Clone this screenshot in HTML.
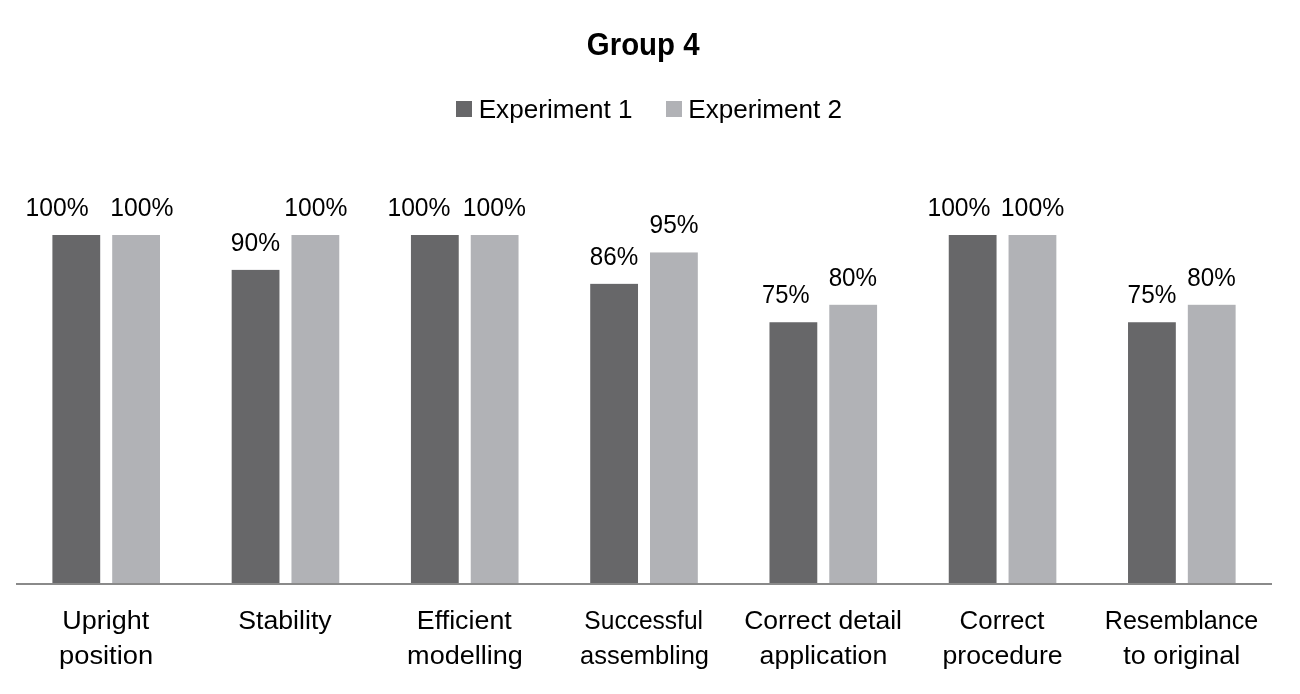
<!DOCTYPE html>
<html><head><meta charset="utf-8"><style>
html,body{margin:0;padding:0;background:#fff;width:1300px;height:694px;overflow:hidden}
svg{display:block;will-change:transform}
text{font-family:"Liberation Sans",sans-serif;fill:#000}
</style></head><body>
<svg width="1300" height="694" viewBox="0 0 1300 694">
<rect width="1300" height="694" fill="#fff"/>
<rect x="52.40" y="235.00" width="47.8" height="349.00" fill="#676769"/>
<rect x="112.20" y="235.00" width="47.8" height="349.00" fill="#b1b2b6"/>
<rect x="231.67" y="269.90" width="47.8" height="314.10" fill="#676769"/>
<rect x="291.47" y="235.00" width="47.8" height="349.00" fill="#b1b2b6"/>
<rect x="410.94" y="235.00" width="47.8" height="349.00" fill="#676769"/>
<rect x="470.74" y="235.00" width="47.8" height="349.00" fill="#b1b2b6"/>
<rect x="590.21" y="283.86" width="47.8" height="300.14" fill="#676769"/>
<rect x="650.01" y="252.45" width="47.8" height="331.55" fill="#b1b2b6"/>
<rect x="769.48" y="322.25" width="47.8" height="261.75" fill="#676769"/>
<rect x="829.28" y="304.80" width="47.8" height="279.20" fill="#b1b2b6"/>
<rect x="948.75" y="235.00" width="47.8" height="349.00" fill="#676769"/>
<rect x="1008.55" y="235.00" width="47.8" height="349.00" fill="#b1b2b6"/>
<rect x="1128.02" y="322.25" width="47.8" height="261.75" fill="#676769"/>
<rect x="1187.82" y="304.80" width="47.8" height="279.20" fill="#b1b2b6"/>
<rect x="16" y="583" width="1256" height="2" fill="#8a8a8a"/>
<rect x="456" y="101" width="16" height="16" fill="#676769"/>
<rect x="666" y="101" width="16" height="16" fill="#b1b2b6"/>
<text transform="translate(586.82,55.20) scale(0.9646,1)" font-size="30.5" font-weight="700">Group 4</text>
<text transform="translate(478.71,117.50) scale(1.0043,1)" font-size="26" font-weight="400">Experiment 1</text>
<text transform="translate(688.21,117.50) scale(1.0049,1)" font-size="26" font-weight="400">Experiment 2</text>
<text transform="translate(25.52,215.80) scale(0.9497,1)" font-size="26" font-weight="400">100%</text>
<text transform="translate(110.32,215.80) scale(0.9505,1)" font-size="26" font-weight="400">100%</text>
<text transform="translate(230.87,250.70) scale(0.9455,1)" font-size="26" font-weight="400">90%</text>
<text transform="translate(284.33,215.80) scale(0.9489,1)" font-size="26" font-weight="400">100%</text>
<text transform="translate(387.43,215.80) scale(0.9489,1)" font-size="26" font-weight="400">100%</text>
<text transform="translate(462.87,215.80) scale(0.9497,1)" font-size="26" font-weight="400">100%</text>
<text transform="translate(589.83,264.66) scale(0.9306,1)" font-size="26" font-weight="400">86%</text>
<text transform="translate(649.58,233.25) scale(0.9415,1)" font-size="26" font-weight="400">95%</text>
<text transform="translate(762.12,303.05) scale(0.9115,1)" font-size="26" font-weight="400">75%</text>
<text transform="translate(828.63,285.60) scale(0.9306,1)" font-size="26" font-weight="400">80%</text>
<text transform="translate(927.43,215.80) scale(0.9489,1)" font-size="26" font-weight="400">100%</text>
<text transform="translate(1000.81,215.80) scale(0.9552,1)" font-size="26" font-weight="400">100%</text>
<text transform="translate(1127.58,303.05) scale(0.9375,1)" font-size="26" font-weight="400">75%</text>
<text transform="translate(1187.33,285.60) scale(0.9306,1)" font-size="26" font-weight="400">80%</text>
<text transform="translate(62.24,629.20) scale(1.0375,1)" font-size="26" font-weight="400">Upright</text>
<text transform="translate(58.99,663.60) scale(1.0516,1)" font-size="26" font-weight="400">position</text>
<text transform="translate(238.27,629.20) scale(1.0256,1)" font-size="26" font-weight="400">Stability</text>
<text transform="translate(416.85,629.20) scale(1.0323,1)" font-size="26" font-weight="400">Efficient</text>
<text transform="translate(407.11,663.60) scale(1.0408,1)" font-size="26" font-weight="400">modelling</text>
<text transform="translate(584.37,629.20) scale(0.9444,1)" font-size="26" font-weight="400">Successful</text>
<text transform="translate(579.98,663.60) scale(0.9814,1)" font-size="26" font-weight="400">assembling</text>
<text transform="translate(744.17,629.20) scale(1.0212,1)" font-size="26" font-weight="400">Correct detail</text>
<text transform="translate(759.53,663.60) scale(1.0289,1)" font-size="26" font-weight="400">application</text>
<text transform="translate(959.61,629.20) scale(0.9950,1)" font-size="26" font-weight="400">Correct</text>
<text transform="translate(942.53,663.60) scale(1.0259,1)" font-size="26" font-weight="400">procedure</text>
<text transform="translate(1104.79,629.20) scale(0.9657,1)" font-size="26" font-weight="400">Resemblance</text>
<text transform="translate(1123.36,663.60) scale(1.0362,1)" font-size="26" font-weight="400">to original</text>
</svg>
</body></html>
